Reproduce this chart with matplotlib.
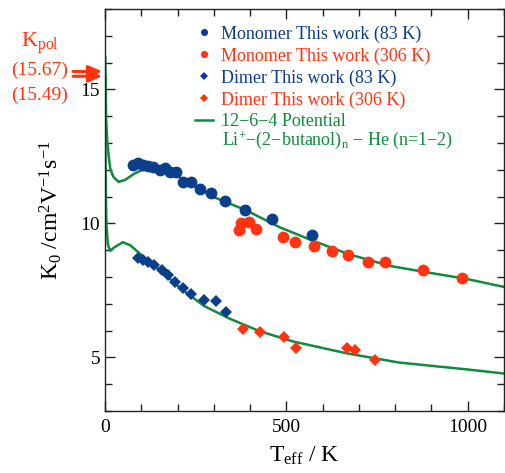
import matplotlib
matplotlib.use("Agg")
from matplotlib import pyplot as plt
from matplotlib.ticker import MultipleLocator

plt.rcParams['font.family'] = ['Liberation Serif', 'DejaVu Serif']
plt.rcParams['mathtext.fontset'] = 'custom'
plt.rcParams['mathtext.rm'] = 'Liberation Serif'
plt.rcParams['mathtext.it'] = 'Liberation Serif:italic'
plt.rcParams['mathtext.default'] = 'regular'

blue = '#0b3f8c'
red = '#ff3311'
green = '#108a3c'

# monomer, 83 K
mono83_T = [78, 92, 105, 119, 133, 151, 165, 179, 197, 215, 238, 261, 293, 331, 385, 460, 572]
mono83_K = [12.18, 12.24, 12.18, 12.14, 12.09, 11.99, 12.06, 11.93, 11.93, 11.55, 11.55, 11.30, 11.12, 10.84, 10.51, 10.18, 9.55]
# monomer, 306 K
mono306_T = [368, 376, 398, 417, 492, 525, 577, 625, 670, 726, 772, 877, 983]
mono306_K = [9.76, 10.01, 10.05, 9.80, 9.51, 9.30, 9.17, 8.96, 8.82, 8.57, 8.55, 8.26, 7.98]
# dimer, 83 K
dim83_T = [92, 105, 119, 135, 156, 174, 194, 215, 238, 273, 307, 334]
dim83_K = [8.71, 8.64, 8.55, 8.46, 8.26, 8.08, 7.83, 7.58, 7.36, 7.14, 7.11, 6.70]
# dimer, 306 K
dim306_T = [380, 426, 494, 527, 668, 690, 744]
dim306_K = [6.06, 5.95, 5.75, 5.35, 5.35, 5.27, 4.89]

# 12-6-4 potential curves
calc1_T = [0.5, 1, 3, 6, 10, 15, 23, 37, 55, 80, 100, 124, 150, 197, 233, 298, 389, 481, 572, 670, 783, 877, 1000, 1100]
calc1_K = [16.2, 15.6, 13.9, 13.1, 12.5, 12.0, 11.74, 11.55, 11.62, 11.85, 11.98, 12.06, 12.03, 11.8, 11.5, 10.99, 10.49, 9.86, 9.36, 8.86, 8.42, 8.2, 7.92, 7.63]
calc2_T = [0.5, 1, 2, 4, 8, 14, 25, 49, 70, 87, 120, 160, 206, 273, 343, 426, 517, 664, 810, 1000, 1100]
calc2_K = [15.5, 13.0, 11.2, 9.9, 9.2, 8.98, 9.1, 9.30, 9.18, 8.98, 8.6, 8.17, 7.6, 6.92, 6.45, 5.98, 5.6, 5.16, 4.81, 4.55, 4.40]

fig = plt.figure(figsize=(5.05, 4.73), dpi=100)
ax = fig.add_axes([0.208, 0.131, 0.79, 0.85])

ax.plot(calc1_T, calc1_K, color=green, lw=1.8, zorder=2)
ax.plot(calc2_T, calc2_K, color=green, lw=1.8, zorder=2)
ax.plot(mono83_T, mono83_K, 'o', color=blue, ms=8.5, mew=0, zorder=3, label='Monomer This work (83 K)')
ax.plot(mono306_T, mono306_K, 'o', color=red, ms=8.5, mew=0, zorder=3, label='Monomer This work (306 K)')
ax.plot(dim83_T, dim83_K, 'D', color=blue, ms=6.5, mew=0, zorder=3, label='Dimer This work (83 K)')
ax.plot(dim306_T, dim306_K, 'D', color=red, ms=6.5, mew=0, zorder=3, label='Dimer This work (306 K)')
ax.plot([], [], color=green, lw=1.8, label='12\u22126\u22124 Potential')

leg = ax.legend(loc='upper left', bbox_to_anchor=(0.185, 1.0), frameon=False, fontsize=13,
                markerscale=0.6, handlelength=1.0, handletextpad=0.45, labelspacing=0.26,
                labelcolor=[blue, red, blue, red, green])
ax.text(0.293, 1 - (140 - 9) / 403, 'Li$^{+}$\u2212(2\u2212butanol)$_{n}$ \u2212 He (n=1\u22122)', transform=ax.transAxes,
        color=green, fontsize=13, va='center')

ax.set_xlim(0, 1100)
ax.set_ylim(3, 18)
ax.xaxis.set_major_locator(MultipleLocator(500))
ax.xaxis.set_minor_locator(MultipleLocator(100))
ax.yaxis.set_major_locator(MultipleLocator(5))
ax.yaxis.set_minor_locator(MultipleLocator(1))
ax.tick_params(which='both', direction='in', top=True, right=True, labelsize=14, color='#222222')
ax.tick_params(which='major', length=7, width=1)
ax.tick_params(which='minor', length=5, width=1)
ax.tick_params(axis='x', which='major', pad=6)
for s in ax.spines.values():
    s.set_color('#222222')
    s.set_linewidth(1.0)

ax.set_xlabel('T$_{eff}$ / K', fontsize=17, labelpad=6)
ax.set_ylabel('K$_{0}$ /cm$^{2}$V$^{-1}$s$^{-1}$', fontsize=17, labelpad=12)

# K_pol annotation
fig.text(40 / 505, 1 - 43 / 473, 'K$_{pol}$', color=red, fontsize=16, ha='center', va='center')
fig.text(40 / 505, 1 - 70 / 473, '(15.67)', color=red, fontsize=14, ha='center', va='center')
fig.text(40 / 505, 1 - 95 / 473, '(15.49)', color=red, fontsize=14, ha='center', va='center')
for k in [15.67, 15.49]:
    ax.annotate('', xy=(0, k), xytext=(-0.08, k), textcoords=('axes fraction', 'data'),
                annotation_clip=False,
                arrowprops=dict(arrowstyle='-|>,head_length=0.8,head_width=0.35', color=red, lw=2.2,
                                shrinkA=0, shrinkB=2))

fig.savefig('out.png', dpi=100)
